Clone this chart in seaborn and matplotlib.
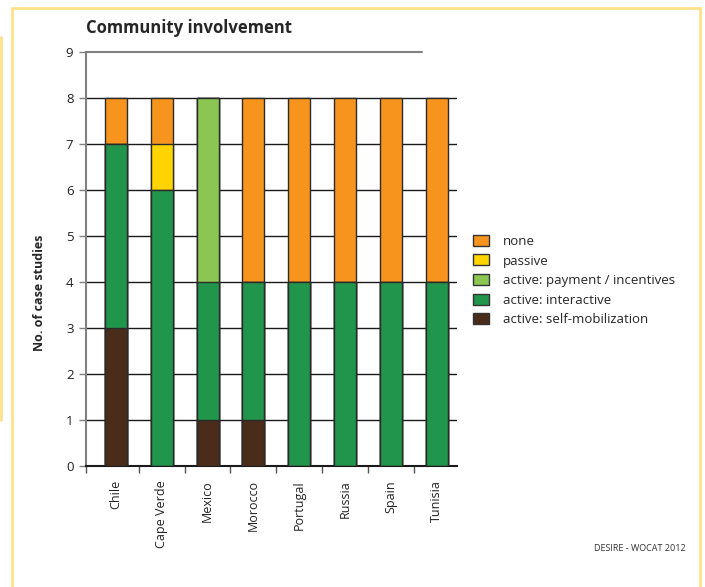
import numpy as np
import pandas as pd
import seaborn as sns
import matplotlib.pyplot as plt
from matplotlib.patches import Patch, Rectangle
from matplotlib.lines import Line2D

countries = ['Chile', 'Cape Verde', 'Mexico', 'Morocco', 'Portugal', 'Russia', 'Spain', 'Tunisia']
self_mob = [3, 0, 1, 1, 0, 0, 0, 0]
interactive = [4, 6, 3, 3, 4, 4, 4, 4]
payment = [0, 0, 4, 0, 0, 0, 0, 0]
passive = [0, 1, 0, 0, 0, 0, 0, 0]
none = [1, 1, 0, 4, 4, 4, 4, 4]

labels = ['active: self-mobilization', 'active: interactive', 'active: payment / incentives', 'passive', 'none']
colors = ['#4a2c1a', '#21954b', '#8bc652', '#ffd400', '#f7941d']

sns.set_style('white')
plt.rcParams['font.family'] = ['Open Sans', 'DejaVu Sans']

df = pd.DataFrame({'country': countries, labels[0]: self_mob, labels[1]: interactive,
                   labels[2]: payment, labels[3]: passive, labels[4]: none})
cum = df[labels].cumsum(axis=1)

fig = plt.figure(figsize=(7.05, 5.87), dpi=100)
ax = fig.add_axes([86/705, 1-466/587, (457-86)/705, (466-52)/587])

# stacked bars: draw cumulative totals from top layer down
for lab, col in reversed(list(zip(labels, colors))):
    sns.barplot(x=df['country'], y=cum[lab], color=col, width=0.48, edgecolor='#2a2a2a',
                linewidth=1.0, saturation=1, zorder=3, ax=ax)

ax.set_ylim(0, 9)
ax.set_xlim(-0.65, 7.44)
for v in range(1, 9):
    ax.axhline(v, color='#1a1a1a', lw=1.0, zorder=1)
ax.plot([-0.65, 6.67], [9, 9], color='#808080', lw=1.5, zorder=1, clip_on=False)

for s in ['top', 'right']:
    ax.spines[s].set_visible(False)
ax.spines['left'].set_color('#808080')
ax.spines['left'].set_linewidth(1.5)
ax.spines['bottom'].set_color('#1a1a1a')
ax.spines['bottom'].set_linewidth(1.5)

ax.set_yticks(range(10))
ax.set_yticklabels([str(v) for v in range(10)], fontsize=9.5, color='#222222')
ax.tick_params(axis='y', direction='out', length=5, width=1, color='#808080', pad=4, left=True)
ax.set_xticks(range(len(countries)))
ax.set_xticklabels(countries, rotation=90, fontsize=9, color='#222222')
ax.tick_params(axis='x', length=0, pad=10)
ax.set_xticks([-0.65] + [i + 0.5 for i in range(7)], minor=True)
ax.tick_params(axis='x', which='minor', direction='out', length=5, width=1, color='#555555', bottom=True)
ax.set_xlabel('')
ax.set_ylabel('No. of case studies', fontsize=9, fontweight='bold')
ax.yaxis.set_label_coords(-0.108, 0.418)

ax.set_title('Community involvement', fontsize=12, fontweight='bold', loc='left', x=0.0, pad=14)

handles = [Patch(facecolor=c, edgecolor='#333333', label=l) for l, c in zip(labels, colors)]
leg = fig.legend(handles=handles[::-1], loc='upper left', bbox_to_anchor=(461/705, 1-223/587),
                 frameon=False, fontsize=9.5, handlelength=1.2, handleheight=0.9,
                 labelspacing=0.5, handletextpad=1.1)

fig.text(686/705, 1-551/587, 'DESIRE - WOCAT 2012', fontsize=6.5, ha='right', color='#333333')

# page frame
fig.patches.append(Rectangle((12/705, -0.05), (700-12)/705, 1.05 - 8/587 + 0.0,
                             transform=fig.transFigure, fill=False, edgecolor='#ffe08a', lw=2))
fig.lines.append(Line2D([0.5/705, 0.5/705], [1-37/587, 1-420/587], transform=fig.transFigure,
                        color='#ffe08a', lw=2))

fig.savefig('out.png', dpi=100)
